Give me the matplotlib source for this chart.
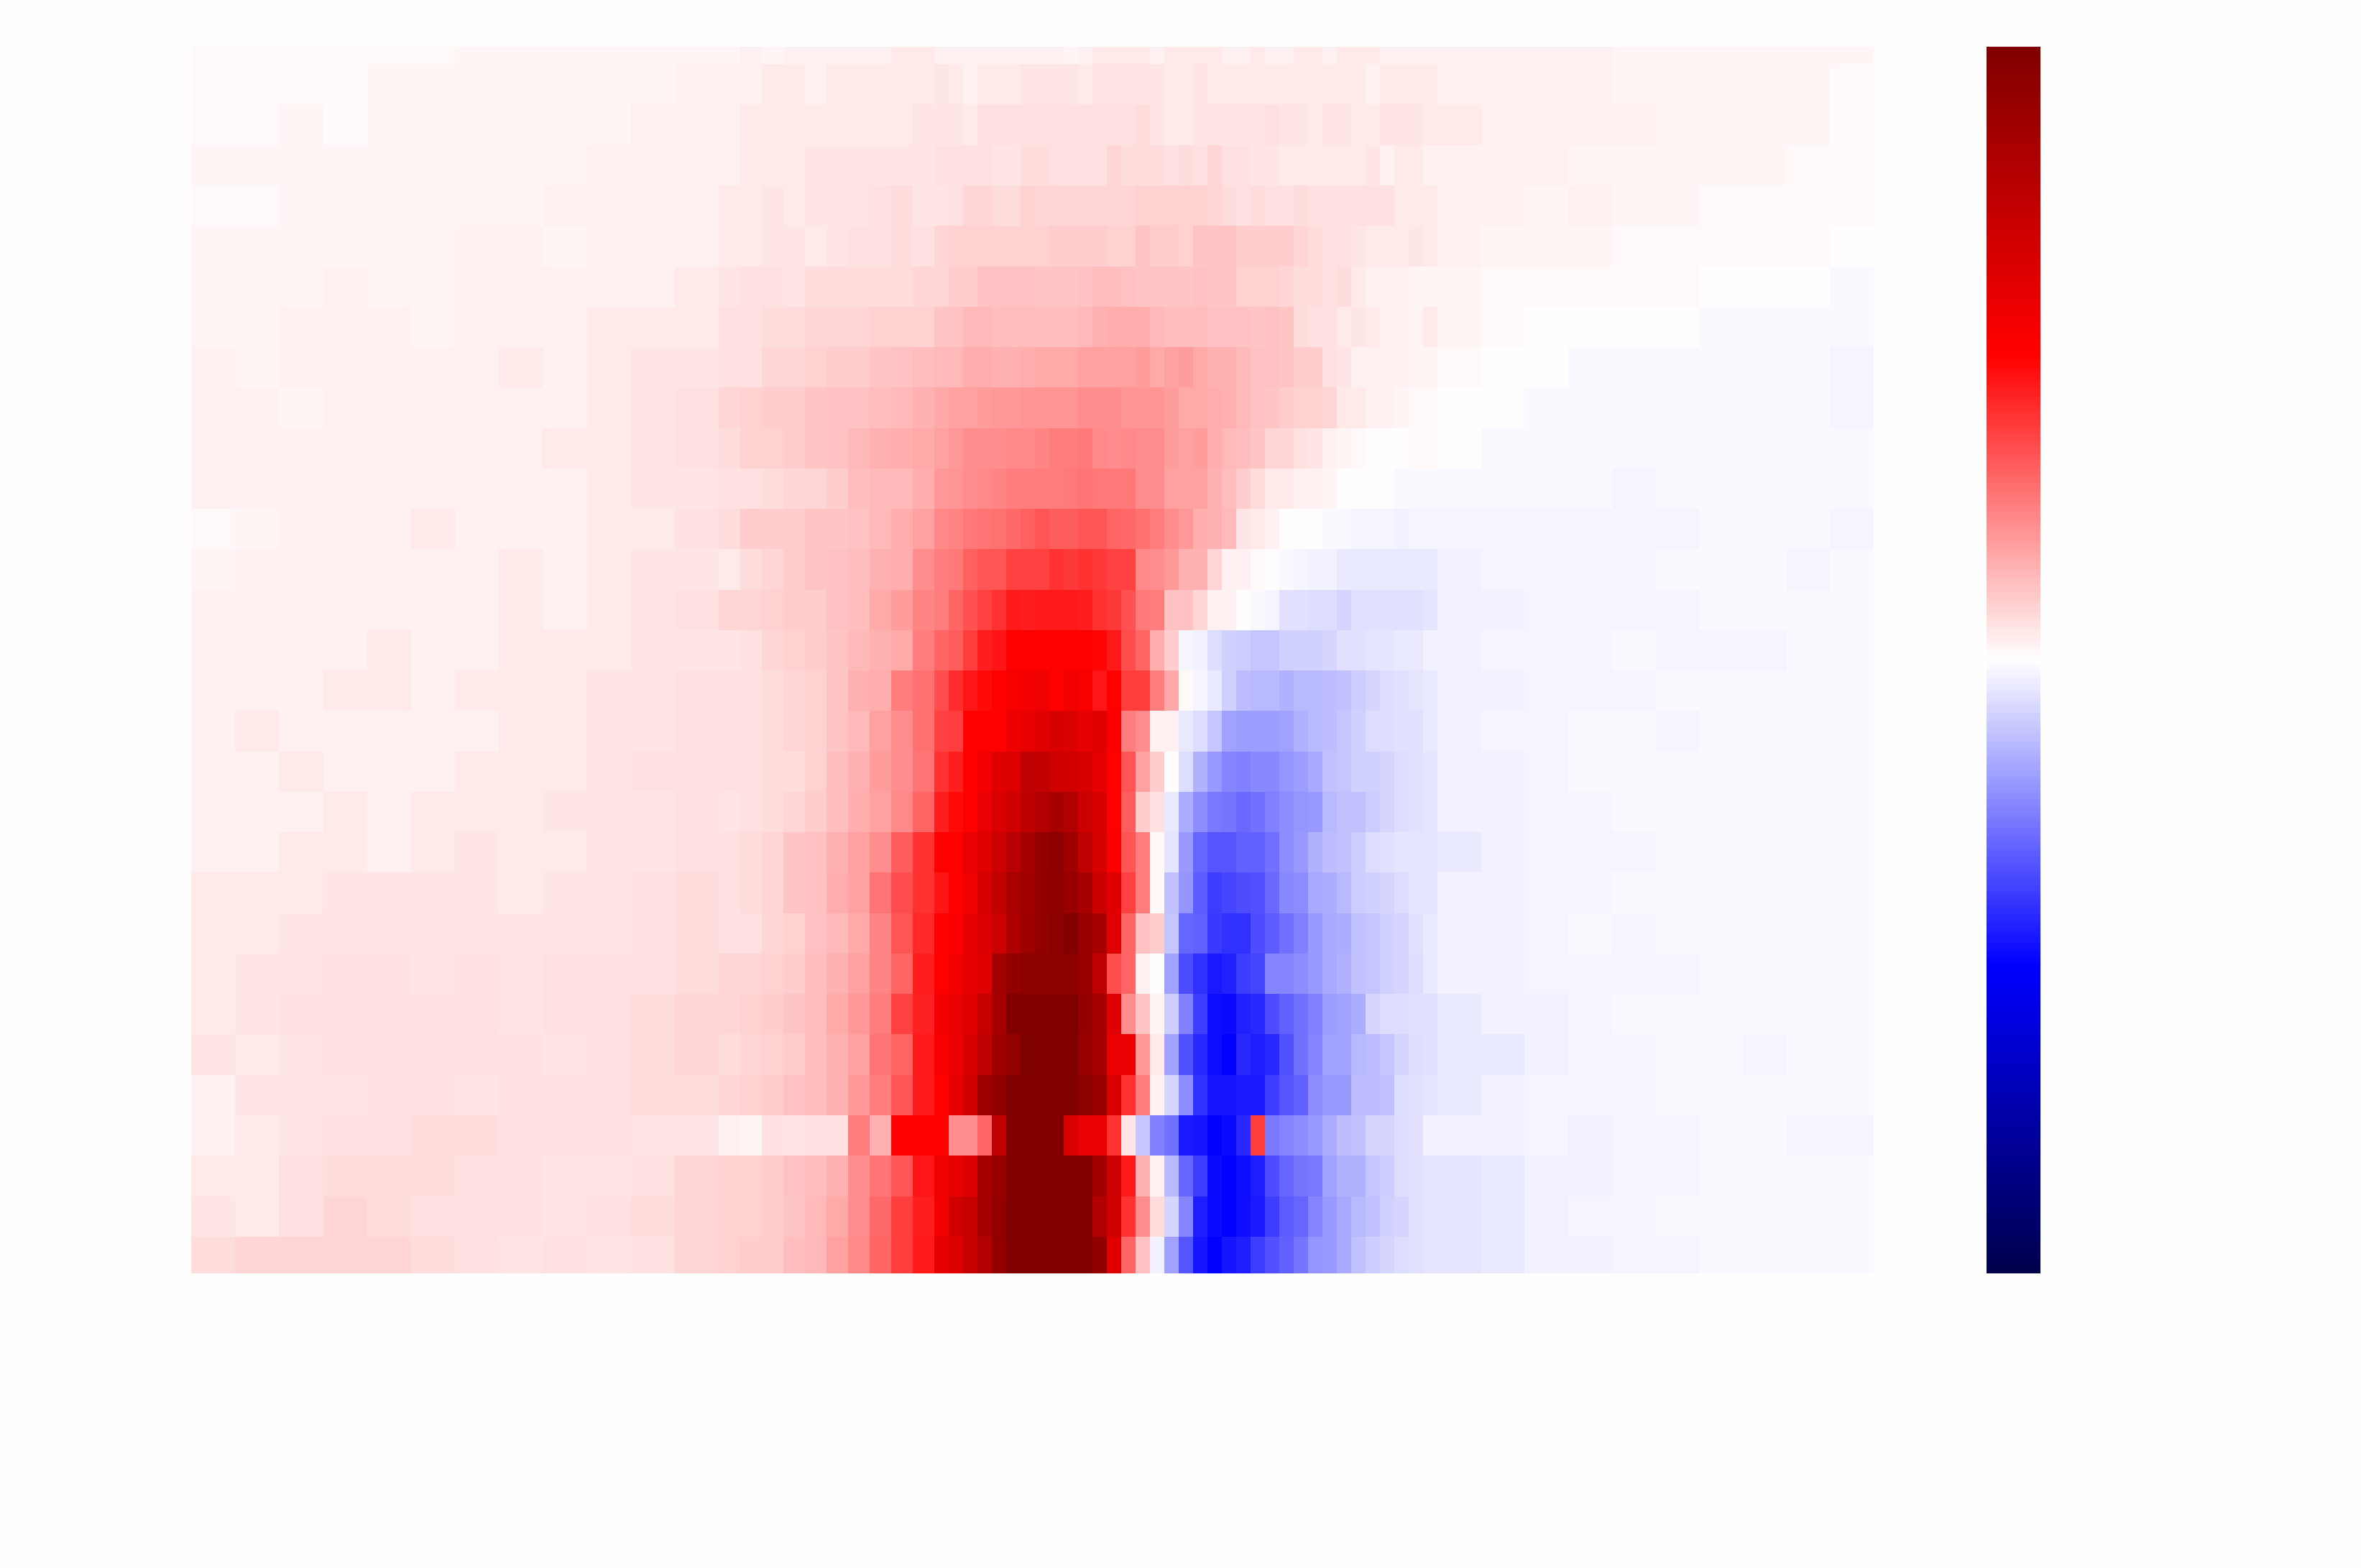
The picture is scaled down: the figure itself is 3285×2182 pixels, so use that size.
import numpy as np
import matplotlib
matplotlib.use('Agg')
import matplotlib.pyplot as plt

# values in percent of the colour range, rows from top to bottom
far_left = [
    [1,1,1,1,1,1,2,2,2,2,2,2],
    [1,1,1,1,2,2,2,2,2,2,2,3],
    [1,1,2,1,2,2,2,2,2,2,3,3],
    [2,2,2,2,2,2,2,2,2,3,3,3],
    [1,1,2,2,2,2,2,2,3,3,3,3],
    [2,2,2,2,2,2,3,3,2,3,3,3],
    [2,2,2,3,2,2,3,3,3,3,3,4],
    [2,2,3,3,3,2,3,3,3,4,4,4],
    [3,2,3,3,3,3,3,4,3,4,5,5],
    [3,3,2,3,3,3,3,3,3,4,5,6],
    [3,3,3,3,3,3,3,3,4,4,5,6],
    [3,3,3,3,3,3,3,3,3,4,5,5],
    [1,2,3,3,3,4,3,3,3,4,4,6],
    [2,3,3,3,3,3,3,4,3,4,5,5],
    [3,3,3,3,3,3,3,4,3,4,5,6],
    [3,3,3,3,4,3,3,4,4,4,5,5],
    [3,3,3,4,4,3,4,4,4,5,5,6],
    [3,4,3,3,3,3,3,4,4,5,5,6],
    [3,3,4,3,3,3,4,4,4,5,6,6],
    [3,3,3,4,3,4,4,4,5,5,5,6],
    [3,3,4,4,3,4,5,4,4,5,5,6],
    [4,4,4,5,5,5,5,4,5,5,6,7],
    [4,4,5,5,5,5,5,5,5,5,6,7],
    [4,5,5,6,6,5,6,5,6,6,6,7],
    [4,5,6,6,6,6,6,5,6,6,7,8],
    [5,4,5,6,6,6,6,6,5,6,7,8],
    [3,5,5,5,6,6,5,6,6,6,7,7],
    [3,4,5,6,6,7,7,6,6,6,5,5],
    [4,4,6,7,7,7,6,6,5,5,6,8],
    [5,4,6,8,7,6,6,6,5,6,7,8],
    [7,8,8,8,8,7,6,5,6,5,6,8],
]

near_left = [
    [2,3,2,3,3,3,3,3,4,4],
    [3,3,4,4,3,4,4,4,4,4],
    [3,4,4,4,4,4,4,4,4,5],
    [3,4,4,4,5,5,5,5,5,5],
    [4,4,5,4,5,5,5,6,7,5],
    [4,4,5,5,4,5,6,6,7,6],
    [5,6,6,5,7,7,7,7,7,8],
    [6,6,7,7,8,8,8,9,9,9],
    [6,6,8,8,9,10,10,11,12,13],
    [8,9,10,10,11,12,12,13,14,15],
    [7,9,9,10,11,12,14,15,16,17],
    [6,6,7,8,8,10,13,14,14,16],
    [7,10,10,10,11,11,12,14,16,18],
    [4,7,8,10,11,12,13,15,16,22],
    [8,8,9,10,10,12,13,17,19,24],
    [5,6,8,9,10,11,14,15,17,25],
    [6,6,7,8,9,11,15,16,25,28],
    [6,6,7,8,9,11,14,18,22,28],
    [6,6,7,7,9,13,15,19,22,27],
    [5,6,7,8,10,13,16,18,23,30],
    [6,7,8,11,12,15,18,22,32,40],
    [6,7,8,11,12,16,18,27,35,40],
    [6,6,8,9,12,14,17,24,33,42],
    [8,8,9,10,13,15,18,24,30,44],
    [8,9,10,11,13,17,20,25,37,43],
    [7,8,9,10,13,15,18,27,30,45],
    [8,9,10,12,13,15,20,25,33,45],
    [3,2,6,5,6,6,25,15,50,50],
    [9,9,10,12,13,15,22,27,33,46],
    [9,9,10,11,14,17,22,29,38,44],
    [9,10,10,13,14,18,23,30,38,45],
]

centre = [
    [3,3,3,3,3,3,3,3,3,2,3,4,4,4,4,3,4,4,4,4,3,3,4,3,3,4,4,3,4,4,4,3,3,3,3],
    [5,4,3,4,4,4,5,5,5,5,4,5,5,5,5,5,4,4,5,4,4,4,4,4,4,4,4,4,4,4,3,4,4,4,4],
    [5,5,4,6,6,6,6,6,6,6,6,6,6,6,7,5,4,4,5,5,5,5,5,6,5,5,4,5,5,4,4,5,5,5,4],
    [6,6,6,6,5,5,7,7,6,6,6,6,8,7,7,7,6,7,6,8,6,6,5,5,4,4,4,4,4,4,5,3,4,4,3],
    [5,6,8,8,7,7,9,8,8,8,8,8,8,8,9,9,9,9,9,8,7,6,7,6,6,7,6,6,6,6,6,6,4,4,4],
    [8,9,9,9,9,9,9,9,10,10,10,10,9,9,11,10,10,9,11,11,11,10,10,10,10,8,7,6,6,5,4,4,4,5,4],
    [8,10,10,12,12,12,12,11,11,11,12,13,13,12,11,11,11,11,12,11,11,9,9,9,8,7,7,6,7,4,3,3,3,2,2],
    [11,12,14,14,13,13,13,13,13,13,14,15,16,16,16,14,13,13,13,12,12,12,11,12,11,7,6,6,4,5,4,3,3,2,4],
    [14,14,16,16,15,15,16,17,17,17,18,18,18,18,19,17,18,19,17,15,15,14,12,12,11,10,10,6,5,3,3,3,3,2,2],
    [17,18,18,19,20,20,21,21,21,21,22,22,22,21,21,21,19,17,17,16,15,14,12,11,10,9,9,8,4,4,3,3,2,1,1],
    [18,20,22,22,22,23,23,24,25,25,26,23,22,23,22,22,19,18,19,16,14,13,11,8,8,6,5,3,2,1,0,0,0,1,1],
    [20,21,22,23,24,25,25,25,25,26,27,26,26,26,22,22,18,18,18,15,13,10,7,4,4,3,3,2,0,0,0,0,-1,-1,-1],
    [23,24,26,27,28,29,31,33,32,32,33,33,30,29,28,25,22,20,16,15,14,5,4,3,0,0,0,-1,-1,-2,-2,-2,-3,-2,-2],
    [25,26,31,33,33,37,37,37,40,39,40,39,37,37,23,22,20,15,15,8,3,3,1,0,-1,-2,-3,-3,-4,-4,-4,-4,-4,-4,-4],
    [25,30,34,37,40,45,44,45,45,45,44,40,39,34,26,25,12,12,8,3,3,0,-1,-2,-6,-6,-7,-7,-8,-6,-6,-6,-6,-6,-5],
    [30,32,38,44,46,50,50,50,50,50,50,49,45,35,30,16,10,-2,-3,-7,-9,-10,-11,-11,-9,-9,-9,-8,-6,-6,-5,-5,-4,-4,-3],
    [35,41,46,48,50,53,54,56,50,55,53,46,50,38,38,25,17,1,-2,-4,-9,-13,-14,-14,-15,-14,-14,-13,-12,-10,-8,-7,-6,-5,-4],
    [37,38,50,50,50,57,59,62,65,64,60,62,52,25,22,3,3,-4,-7,-11,-18,-19,-19,-19,-18,-15,-14,-13,-11,-9,-7,-7,-6,-6,-4],
    [40,44,50,55,62,64,75,74,68,68,66,60,50,33,18,10,0,-7,-15,-20,-24,-25,-23,-23,-21,-19,-17,-12,-11,-9,-9,-8,-7,-6,-5],
    [44,48,50,58,65,68,76,80,85,80,70,65,50,32,10,6,-4,-16,-22,-26,-27,-29,-28,-25,-22,-21,-20,-14,-12,-12,-10,-8,-7,-6,-5],
    [50,50,58,62,70,78,85,92,94,87,75,66,52,33,25,1,-5,-20,-30,-33,-33,-31,-31,-28,-22,-20,-15,-13,-12,-10,-7,-6,-5,-5,-5],
    [46,50,56,66,74,84,87,92,93,90,84,70,62,37,25,1,-12,-21,-32,-38,-36,-35,-34,-29,-23,-22,-17,-16,-14,-10,-9,-8,-7,-5,-5],
    [50,52,60,64,70,82,88,92,95,98,90,84,62,30,12,10,-11,-30,-31,-39,-40,-40,-35,-32,-28,-25,-20,-17,-16,-12,-11,-9,-8,-6,-4],
    [50,54,60,62,86,92,95,95,95,95,90,75,35,30,3,0,-18,-35,-40,-45,-43,-38,-36,-24,-24,-22,-20,-17,-15,-12,-11,-9,-8,-7,-4],
    [55,58,62,72,85,100,100,100,100,100,92,85,62,22,11,2,-10,-25,-38,-47,-48,-43,-42,-35,-31,-28,-25,-19,-18,-16,-8,-7,-7,-6,-6],
    [53,58,65,75,88,92,100,100,100,100,90,85,58,58,20,4,-18,-34,-42,-47,-50,-42,-44,-42,-34,-28,-24,-18,-18,-14,-13,-11,-8,-7,-6],
    [50,60,68,88,92,100,100,100,100,100,95,90,65,40,25,3,-8,-22,-40,-46,-46,-45,-45,-38,-33,-31,-22,-20,-20,-13,-13,-12,-7,-6,-5],
    [50,22,22,30,75,100,100,100,100,65,58,58,40,5,-11,-25,-28,-45,-46,-50,-48,-42,38,-26,-24,-22,-20,-16,-13,-12,-8,-8,-7,-6,-3],
    [56,60,64,85,90,100,100,100,100,100,100,86,70,45,15,3,-14,-30,-38,-48,-50,-47,-44,-35,-30,-27,-26,-18,-15,-15,-11,-10,-7,-6,-5],
    [54,68,72,85,92,100,100,100,100,100,100,80,68,40,22,7,-8,-24,-44,-48,-50,-47,-45,-38,-32,-30,-24,-20,-17,-14,-12,-9,-8,-6,-5],
    [60,63,72,80,92,100,100,100,100,100,100,92,62,30,12,-3,-18,-33,-46,-50,-46,-44,-38,-34,-31,-27,-21,-20,-17,-12,-10,-8,-7,-6,-5],
]

far_right = [
    [3,3,3,3,2,2,2,2,2,2],
    [3,3,3,3,2,2,2,2,2,1],
    [4,3,3,3,3,2,2,2,2,1],
    [3,3,3,2,2,2,2,2,1,1],
    [3,3,2,3,2,2,1,1,1,1],
    [3,2,2,2,1,1,1,1,1,0],
    [2,1,1,1,1,1,0,0,0,-1],
    [2,1,0,0,0,0,-1,-1,-1,-1],
    [1,0,0,-1,-1,-1,-1,-1,-1,-2],
    [0,0,-1,-1,-1,-1,-1,-1,-1,-2],
    [0,-1,-1,-1,-1,-1,-1,-1,-1,-1],
    [-1,-1,-1,-1,-2,-1,-1,-1,-1,-1],
    [-2,-2,-2,-2,-2,-2,-1,-1,-1,-2],
    [-3,-2,-2,-2,-2,-1,-1,-1,-2,-1],
    [-3,-3,-2,-2,-2,-2,-1,-1,-1,-1],
    [-3,-2,-2,-2,-1,-2,-2,-2,-1,-1],
    [-3,-3,-2,-2,-2,-1,-1,-1,-1,-1],
    [-3,-2,-2,-1,-1,-2,-1,-1,-1,-1],
    [-3,-3,-2,-1,-1,-1,-1,-1,-1,-1],
    [-3,-3,-2,-2,-1,-1,-1,-1,-1,-1],
    [-4,-3,-2,-2,-2,-1,-1,-1,-1,-1],
    [-3,-3,-2,-2,-1,-1,-1,-1,-1,-1],
    [-3,-3,-2,-1,-2,-1,-1,-1,-1,-1],
    [-3,-3,-2,-2,-2,-2,-1,-1,-1,-1],
    [-4,-3,-3,-2,-1,-1,-1,-1,-1,-1],
    [-4,-4,-3,-2,-2,-1,-1,-2,-1,-1],
    [-4,-3,-2,-2,-2,-1,-1,-1,-1,-1],
    [-3,-3,-2,-3,-2,-2,-1,-1,-2,-2],
    [-5,-4,-3,-3,-2,-2,-1,-1,-1,-1],
    [-5,-4,-3,-2,-2,-1,-1,-1,-1,-1],
    [-5,-4,-3,-3,-2,-2,-1,-1,-1,-1],
]

values = np.hstack([far_left, near_left, centre, far_right]) / 100

# column widths follow how much detail each part of the picture has
x_edges = np.concatenate([
    np.linspace(266, 1000, 13),
    np.linspace(1000, 1300, 11)[1:],
    np.linspace(1300, 2000, 36)[1:],
    np.linspace(2000, 2607, 11)[1:],
])
y_edges = np.arange(values.shape[0] + 1) - 0.5

fig = plt.figure(figsize=(32.85, 21.82), dpi=100, facecolor='#fefefe')
ax = fig.add_axes([266 / 3285, 1 - 1772 / 2182, (2607 - 266) / 3285, (1772 - 65) / 2182])
mesh = ax.pcolormesh(x_edges, y_edges, values, cmap='seismic', vmin=-1, vmax=1, shading='flat')
ax.set_xlim(266, 2607)
ax.set_ylim(30.41, 0.07)
ax.axis('off')

cax = fig.add_axes([2764 / 3285, 1 - 1772 / 2182, 75 / 3285, (1772 - 65) / 2182])
cbar = fig.colorbar(mesh, cax=cax)
cbar.outline.set_visible(False)
cbar.set_ticks([])

fig.savefig('out.png', dpi=100, facecolor=fig.get_facecolor())
